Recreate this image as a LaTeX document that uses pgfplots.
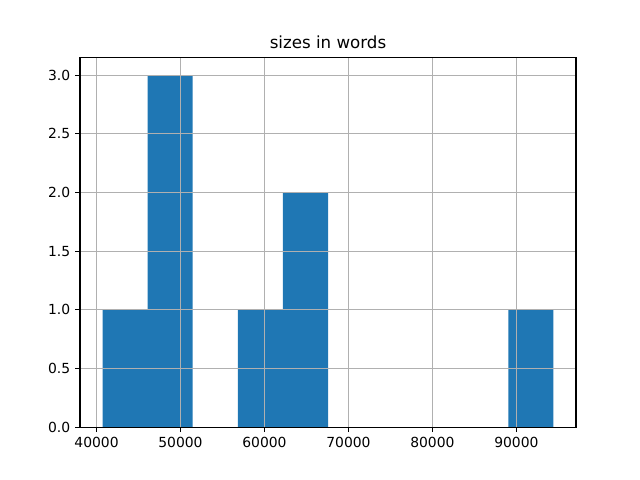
\documentclass[border=0pt]{standalone}
\usepackage{pgfplots}
\pgfplotsset{compat=1.18}
\usepackage{fontspec}
\setmainfont{DejaVu Sans}
\definecolor{mplblue}{HTML}{1F77B4}
\definecolor{gridgray}{HTML}{B0B0B0}
\begin{document}
\begin{tikzpicture}
\path[use as bounding box] (0,0) rectangle (460.8pt,345.6pt);
\begin{axis}[
  at={(57.6pt,38.016pt)}, anchor=south west,
  scale only axis, width=357.12pt, height=266.112pt,
  xmin=38031, xmax=97100, ymin=0, ymax=3.15,
  xtick={40000,50000,60000,70000,80000,90000},
  ytick={0,0.5,1,1.5,2,2.5,3},
  scaled ticks=false,
  /pgf/number format/assume math mode=true,
  xticklabel style={/pgf/number format/.cd, fixed, set thousands separator={}},
  yticklabel style={/pgf/number format/.cd, fixed, fixed zerofill, precision=1},
  ticklabel style={font=\fontsize{10}{12}\selectfont},
  tick align=outside, major tick length=3.5pt,
  tick style={black, line width=0.8pt},
  axis line style={line width=0.8pt},
  xtick pos=bottom, ytick pos=left,
  grid=major, grid style={gridgray, line width=0.8pt},
  axis on top,
  title={sizes in words},
  title style={font=\fontsize{12}{14}\selectfont, yshift=-3.5pt},
]
\addplot[ybar interval, fill=mplblue, draw=none] coordinates {
 (40716,1) (46086,3) (51456,0) (56826,1) (62196,2) (67566,0) (72936,0) (78306,0) (83676,0) (89046,1) (94415,1)
};
\end{axis}
\end{tikzpicture}
\end{document}
